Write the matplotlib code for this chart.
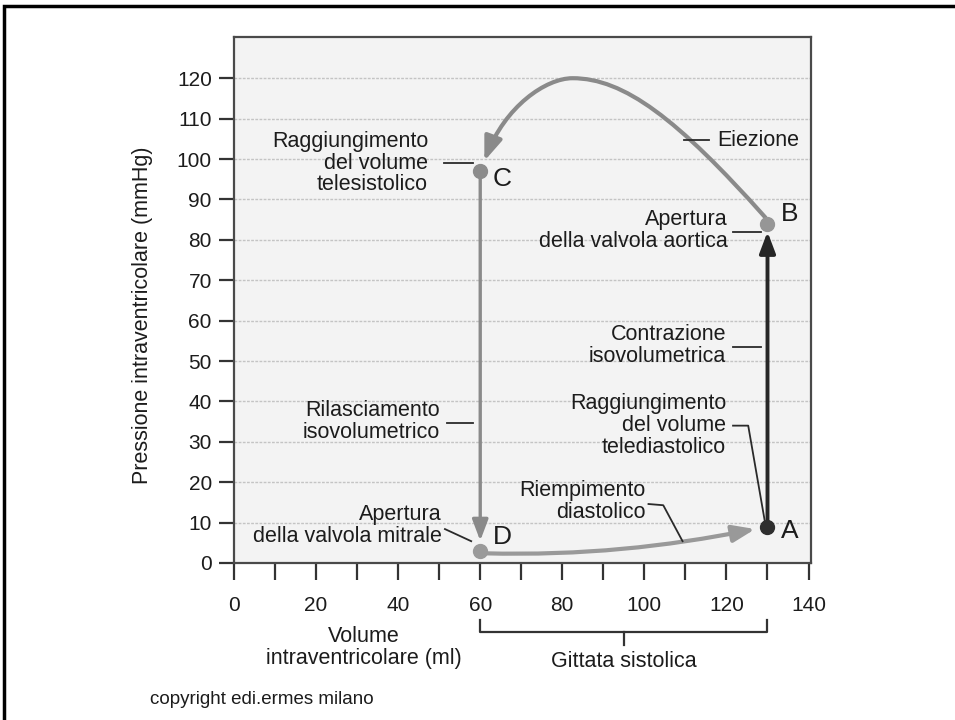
import numpy as np
import matplotlib
matplotlib.use("Agg")
import matplotlib.pyplot as plt
from matplotlib.path import Path
from matplotlib.patches import FancyArrowPatch, Rectangle

plt.rcParams["font.family"] = ["Liberation Sans", "DejaVu Sans"]

# ── data (ml, mmHg) ─────────────────────────────────────────────────────────
pt_names = ["A", "B", "C", "D"]
pt_vol = [130, 130, 60, 60]
pt_press = [9, 84, 97, 3]
pt_colors = ["#2e2e2e", "#969696", "#8c8c8c", "#9a9a9a"]

# ejection loop B -> C, two cubic bezier pieces (start, c1, c2, end, c1, c2, end)
eject_x = [129.5, 108, 95, 82.5, 76, 66, 61]
eject_y = [85.5, 110, 120, 120, 120, 113, 99.5]
# diastolic filling D -> A
fill_x = [61, 85, 105, 127]
fill_y = [2.4, 1.8, 4.0, 8.4]
# isovolumetric phases (start, tip)
relax_x, relax_y = [60, 60], [97, 5.5]
contr_x, contr_y = [130, 130], [9, 82]

yticks = np.arange(0, 130, 10)
xticks = np.arange(0, 141, 20)
xminor = np.arange(0, 141, 10)

ink = "#1c1c1c"
FS = 15.5
HEAD = "-|>,head_length=0.85,head_width=0.32"

fig = plt.figure(figsize=(9.55, 7.2), dpi=100)
# outer frame (only left/top visible in the cropped original)
fig.add_artist(Rectangle((4 / 955, -0.5), 2, 0.5 + (1 - 6 / 720), transform=fig.transFigure,
                         fill=False, lw=2.5, ec="black"))

ax = fig.add_axes([234 / 955, 1 - 563 / 720, (811 - 234) / 955, (563 - 37) / 720])
ax.set_facecolor("#f3f3f3")
ax.set_xlim(0, 140.6)
ax.set_ylim(0, 130.2)
for s in ax.spines.values():
    s.set_color("#4a4a4a")
    s.set_linewidth(1.6)

ax.set_yticks(yticks)
ax.set_xticks(xticks)
ax.set_xticks(xminor, minor=True)
ax.tick_params(axis="y", length=11, width=1.6, color="#333333", pad=5, labelsize=15, labelcolor=ink)
ax.tick_params(axis="x", which="both", length=12, width=1.6, color="#333333", pad=12,
               labelsize=15, labelcolor=ink)
for yv in yticks[1:]:
    ax.axhline(yv, color="#c4c4c4", lw=1.0, ls=(0, (2, 1)), zorder=0)

# curves
eject_path = Path(list(zip(eject_x, eject_y)),
                  [Path.MOVETO] + [Path.CURVE4] * 6)
ax.add_patch(FancyArrowPatch(path=eject_path, arrowstyle=HEAD,
                             mutation_scale=17, lw=3.0, color="#8a8a8a", zorder=3))
fill_path = Path(list(zip(fill_x, fill_y)), [Path.MOVETO] + [Path.CURVE4] * 3)
ax.add_patch(FancyArrowPatch(path=fill_path, arrowstyle=HEAD,
                             mutation_scale=16, lw=3.0, color="#999999", zorder=3))
ax.annotate("", xy=(relax_x[1], relax_y[1]), xytext=(relax_x[0], relax_y[0]),
            arrowprops=dict(arrowstyle=HEAD, mutation_scale=15,
                            lw=2.4, color="#8a8a8a", shrinkA=0, shrinkB=0), zorder=3)
ax.annotate("", xy=(contr_x[1], contr_y[1]), xytext=(contr_x[0], contr_y[0]),
            arrowprops=dict(arrowstyle=HEAD, mutation_scale=15,
                            lw=2.8, color="#262626", shrinkA=0, shrinkB=0), zorder=3)

# points + letters
letter_off = [(3.3, -1.2), (3.3, 2.3), (3.0, -2.0), (3.0, 3.4)]
for n, vx, vy, c, (dx, dy) in zip(pt_names, pt_vol, pt_press, pt_colors, letter_off):
    ax.plot(vx, vy, "o", ms=10, color=c, zorder=5, clip_on=False)
    ax.text(vx + dx, vy + dy, n, fontsize=19, color=ink, va="center", ha="left")

def label(x, y, s, ha="right"):
    ax.text(x, y, s, fontsize=FS, color=ink, ha=ha, va="center", linespacing=1.05,
            clip_on=False)

def leader(xs, ys):
    ax.plot(xs, ys, color="#2a2a2a", lw=1.3, clip_on=False, zorder=4)

label(47.3, 99, "Raggiungimento\ndel volume\ntelesistolico")
leader([51.2, 58.3], [99, 99])
label(117.8, 104.7, "Eiezione", ha="left")
leader([109.6, 115.8], [104.7, 104.7])
label(120.3, 82.3, "Apertura\ndella valvola aortica")
leader([121.6, 128.3], [82, 82])
label(119.9, 53.8, "Contrazione\nisovolumetrica")
leader([121.6, 128.5], [53.5, 53.5])
label(119.9, 34.0, "Raggiungimento\ndel volume\ntelediastolico")
leader([121.6, 125.3, 129.3], [34.0, 34.0, 10.6])
label(50.2, 35.0, "Rilasciamento\nisovolumetrico")
leader([52.0, 58.2], [34.7, 34.7])
label(100.2, 15.2, "Riempimento\ndiastolico")
leader([101.0, 104.6, 109.3], [14.6, 14.3, 5.4])
label(50.6, 9.3, "Apertura\ndella valvola mitrale")
leader([51.4, 57.8], [8.4, 5.4])

# stroke volume bracket under the axis
ax.plot([60, 60, 130, 130], [-14.0, -17.1, -17.1, -14.0], color="#333333", lw=1.6, clip_on=False)
ax.plot([95, 95], [-17.1, -20.4], color="#333333", lw=1.6, clip_on=False)
ax.text(95, -24.3, "Gittata sistolica", fontsize=FS, color=ink, ha="center", va="center")
ax.text(31.7, -21.0, "Volume\nintraventricolare (ml)", fontsize=FS, color=ink, ha="center",
        va="center", linespacing=1.05)

fig.text(142 / 955, 1 - 315 / 720, "Pressione intraventricolare (mmHg)", rotation=90,
         fontsize=FS, color=ink, ha="center", va="center")
fig.text(150 / 955, 1 - 700 / 720, "copyright edi.ermes milano", fontsize=13.5, color=ink,
         ha="left", va="center")

fig.savefig("out.png", dpi=100, facecolor="white")
